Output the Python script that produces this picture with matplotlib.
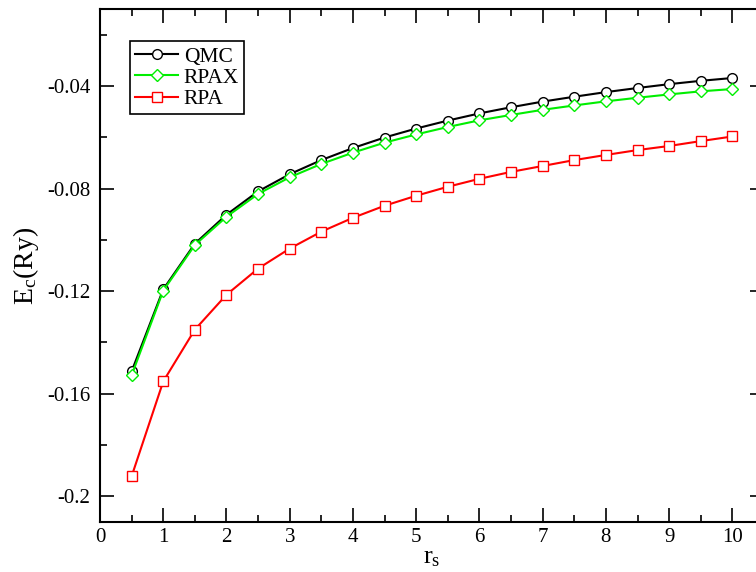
import matplotlib.pyplot as plt
from matplotlib.ticker import MultipleLocator

plt.rcParams['font.family'] = ['Liberation Serif', 'DejaVu Serif']
plt.rcParams['mathtext.fontset'] = 'custom'
plt.rcParams['mathtext.rm'] = 'Liberation Serif'
plt.rcParams['mathtext.it'] = 'Liberation Serif'

rs = [0.5, 1.0, 1.5, 2.0, 2.5, 3.0, 3.5, 4.0, 4.5, 5.0,
      5.5, 6.0, 6.5, 7.0, 7.5, 8.0, 8.5, 9.0, 9.5, 10.0]
qmc = [-0.1513, -0.1193, -0.1015, -0.0902, -0.0811, -0.0744, -0.0689, -0.0642, -0.0601, -0.0566,
       -0.0535, -0.0507, -0.0483, -0.0461, -0.0442, -0.0424, -0.0408, -0.0393, -0.0380, -0.0369]
rpax = [-0.1528, -0.1198, -0.1020, -0.0910, -0.0821, -0.0756, -0.0704, -0.0660, -0.0621, -0.0589,
        -0.0560, -0.0534, -0.0513, -0.0493, -0.0476, -0.0460, -0.0446, -0.0433, -0.0421, -0.0412]
rpa = [-0.1922, -0.1552, -0.1350, -0.1214, -0.1112, -0.1034, -0.0968, -0.0914, -0.0867, -0.0828,
       -0.0793, -0.0762, -0.0735, -0.0712, -0.0689, -0.0669, -0.0650, -0.0634, -0.0615, -0.0597]

fig = plt.figure(figsize=(7.56, 5.72), dpi=100)
ax = fig.add_axes([100 / 756, 50 / 572, 664 / 756, 513 / 572])

ax.plot(rs, qmc, '-o', color='black', lw=1.5, ms=7, mfc='white', mew=1.0, label='QMC')
ax.plot(rs, rpax, '-D', color='#00ee00', lw=1.5, ms=6, mfc='white', mew=1.0, label='RPAX')
ax.plot(rs, rpa, '-s', color='red', lw=1.5, ms=6.5, mfc='white', mew=1.0, label='RPA')

ax.set_xlim(0, 10.5)
ax.set_ylim(-0.21, -0.01)
ax.xaxis.set_major_locator(MultipleLocator(1))
ax.xaxis.set_minor_locator(MultipleLocator(0.5))
ax.yaxis.set_minor_locator(MultipleLocator(0.02))
ax.set_yticks([-0.2, -0.16, -0.12, -0.08, -0.04])
ax.set_yticklabels(['-0.2', '-0.16', '-0.12', '-0.08', '-0.04'])
ax.tick_params(which='both', direction='in', top=True, right=True, labelsize=15, width=1.2)
ax.tick_params(which='major', length=10)
ax.tick_params(which='minor', length=5)
ax.tick_params(axis='x', pad=4)
ax.tick_params(axis='y', pad=7)
for s in ax.spines.values():
    s.set_linewidth(1.5)

ax.set_xlabel(r'r$_\mathrm{s}$', fontsize=19, labelpad=0)
ax.set_ylabel(r'E$_\mathrm{c}$(Ry)', fontsize=20, labelpad=4)

leg = ax.legend(loc='upper left', bbox_to_anchor=(0.045, 0.937), fontsize=15.5, handlelength=2.0,
                fancybox=False, edgecolor='black', framealpha=1, borderpad=0.25,
                labelspacing=0.05, handletextpad=0.25, borderaxespad=0)
leg.get_frame().set_linewidth(1.2)

fig.savefig('out.png', dpi=100)
